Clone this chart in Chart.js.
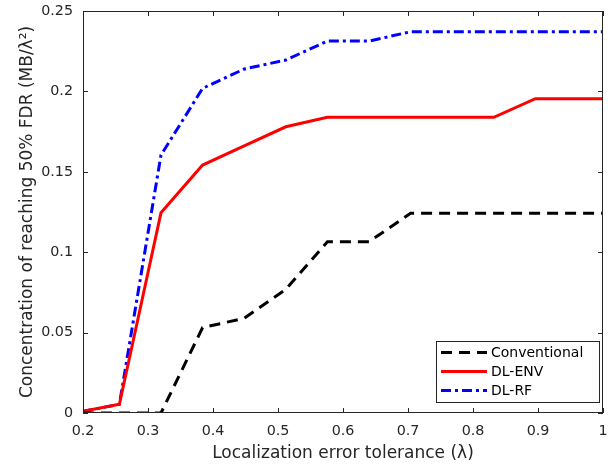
<!DOCTYPE html>
<html>
<head>
<meta charset="utf-8">
<script src="https://cdn.jsdelivr.net/npm/chart.js@4/dist/chart.umd.min.js"></script>
<style>
html,body{margin:0;padding:0;background:#fff;}
#wrap{width:613px;height:466px;position:relative;}
</style>
</head>
<body>
<div id="wrap"><canvas id="c" width="613" height="466"></canvas></div>
<script>
const lambdas = [0.2, 0.256, 0.32, 0.384, 0.448, 0.512, 0.576, 0.64, 0.704, 0.768, 0.832, 0.896, 0.96, 1.0];
const conventional = [0, 0, 0, 0.0531, 0.0589, 0.0769, 0.1065, 0.1065, 0.1242, 0.1242, 0.1242, 0.1242, 0.1242, 0.1242];
const dlEnv = [0.001, 0.0054, 0.1246, 0.1542, 0.1661, 0.1780, 0.1839, 0.1839, 0.1839, 0.1839, 0.1839, 0.1955, 0.1955, 0.1955];
const dlRf = [0.001, 0.0054, 0.1604, 0.2019, 0.2139, 0.2195, 0.2313, 0.2313, 0.2371, 0.2371, 0.2371, 0.2371, 0.2371, 0.2371];
const xTicks = [0.2, 0.3, 0.4, 0.5, 0.6, 0.7, 0.8, 0.9, 1];
const yTicks = [0, 0.05, 0.1, 0.15, 0.2, 0.25];
const seriesNames = ['Conventional', 'DL-ENV', 'DL-RF'];

const FONT = "'DejaVu Sans', sans-serif";
const AXC = '#262626';

const toPts = arr => lambdas.map((x, i) => ({x: x, y: arr[i]}));

const styles = [
  {color: '#000000', dash: [11, 7]},
  {color: '#ff0000', dash: []},
  {color: '#0000ff', dash: [10, 4, 3, 4]}
];

const boxTicks = {
  id: 'boxTicks',
  afterDraw(chart) {
    const {ctx, chartArea: a, scales: {x, y}} = chart;
    ctx.save();
    ctx.strokeStyle = AXC;
    ctx.lineWidth = 1;
    ctx.setLineDash([]);
    ctx.strokeRect(a.left + 0.5, a.top + 0.5, a.right - a.left - 1, a.bottom - a.top - 1);
    const tl = 5;
    ctx.beginPath();
    xTicks.forEach(v => {
      const px = Math.round(x.getPixelForValue(v)) + 0.5;
      ctx.moveTo(px, a.bottom); ctx.lineTo(px, a.bottom - tl);
      ctx.moveTo(px, a.top); ctx.lineTo(px, a.top + tl);
    });
    yTicks.forEach(v => {
      const py = Math.round(y.getPixelForValue(v)) + 0.5;
      ctx.moveTo(a.left, py); ctx.lineTo(a.left + tl, py);
      ctx.moveTo(a.right, py); ctx.lineTo(a.right - tl, py);
    });
    ctx.stroke();

    // legend
    const bx = 436.5, by = 341.5, bw = 163, bh = 61;
    ctx.fillStyle = '#fff';
    ctx.fillRect(bx, by, bw, bh);
    ctx.strokeStyle = AXC;
    ctx.strokeRect(bx, by, bw, bh);
    const rows = [352.5, 371.5, 390.5];
    ctx.font = "14px " + FONT;
    ctx.textBaseline = 'middle';
    seriesNames.forEach((n, i) => {
      ctx.strokeStyle = styles[i].color;
      ctx.lineWidth = 3;
      ctx.setLineDash(styles[i].dash);
      ctx.beginPath();
      ctx.moveTo(441, rows[i]); ctx.lineTo(487, rows[i]);
      ctx.stroke();
      ctx.fillStyle = '#000';
      ctx.fillText(n, 491, rows[i] + 1);
    });
    ctx.restore();
  }
};

new Chart(document.getElementById('c'), {
  type: 'line',
  data: {
    datasets: seriesNames.map((n, i) => ({
      label: n,
      data: toPts([conventional, dlEnv, dlRf][i]),
      borderColor: styles[i].color,
      borderDash: styles[i].dash,
      borderWidth: 3,
      pointRadius: 0,
      tension: 0,
      fill: false
    }))
  },
  options: {
    responsive: false,
    animation: false,
    layout: {padding: {top: 11, right: 10, left: 0, bottom: 0}},
    plugins: {legend: {display: false}, tooltip: {enabled: false}},
    scales: {
      x: {
        type: 'linear', min: 0.2, max: 1,
        grid: {display: false, drawTicks: false},
        border: {display: false},
        afterBuildTicks: s => { s.ticks = xTicks.map(v => ({value: v})); },
        afterFit: s => { s.height = 53; s.paddingLeft = 0; s.paddingRight = 0; },
        ticks: {
          color: AXC, font: {family: FONT, size: 14.3}, padding: 10,
          maxRotation: 0, autoSkip: false,
          callback: v => String(v)
        },
        title: {display: true, text: 'Localization error tolerance (λ)', color: AXC,
          font: {family: FONT, size: 17}, padding: {top: 1, bottom: 2}}
      },
      y: {
        type: 'linear', min: 0, max: 0.25,
        grid: {display: false, drawTicks: false},
        border: {display: false},
        afterBuildTicks: s => { s.ticks = yTicks.map(v => ({value: v})); },
        afterFit: s => { s.width = 83; s.paddingTop = 0; s.paddingBottom = 0; },
        ticks: {
          color: AXC, font: {family: FONT, size: 14.3}, padding: 10,
          autoSkip: false,
          callback: v => String(v)
        },
        title: {display: true, text: 'Concentration of reaching 50% FDR (MB/λ²)', color: AXC,
          font: {family: FONT, size: 17}, padding: {top: 17, bottom: 4}}
      }
    }
  },
  plugins: [boxTicks]
});
</script>
</body>
</html>
